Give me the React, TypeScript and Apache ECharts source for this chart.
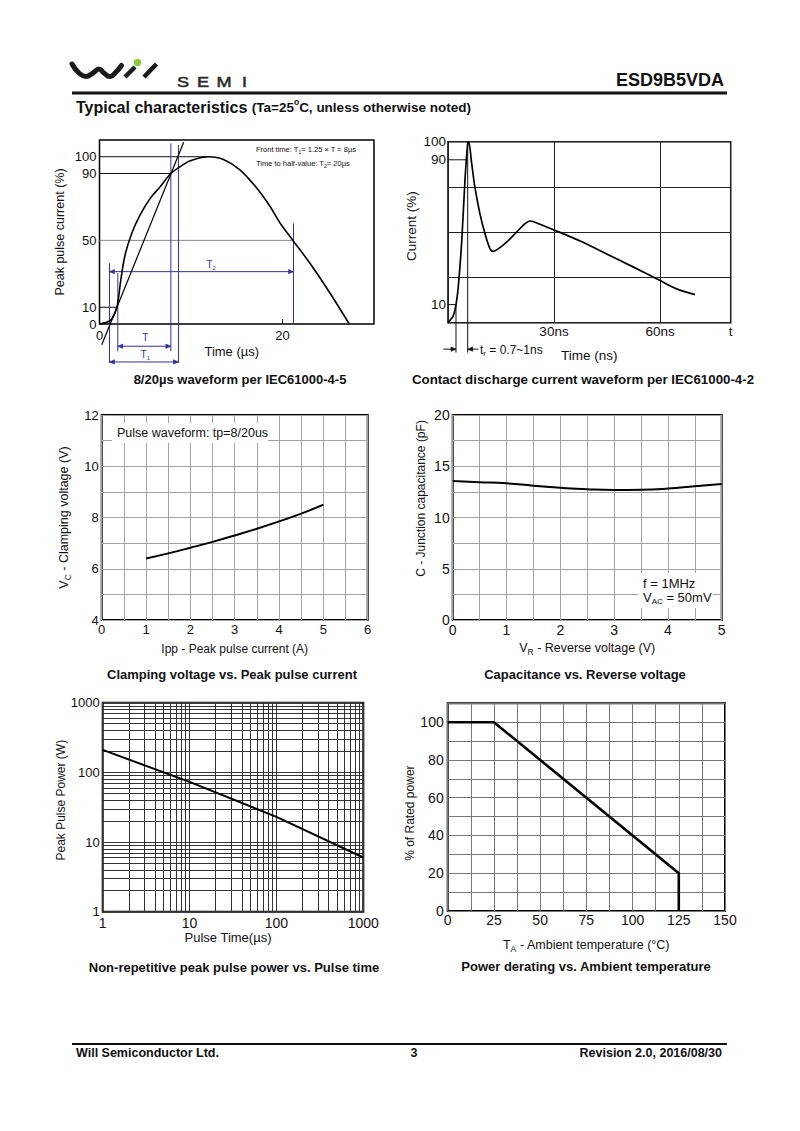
import React, { useEffect, useRef } from "react";
import * as echarts from "echarts";

const FONT = "'Liberation Sans', Arial, Helvetica, sans-serif";

// ---------- Chart 1: 8/20us waveform (IEC61000-4-5)
const surgeTime = [0, 0.8, 1.35, 1.9, 2.33, 2.8, 3.53, 4.44, 5.54, 6.63, 7.8, 9.18, 9.91, 11.9, 13.55, 15.38, 17.2, 18.66, 19.75, 21.2, 23.0, 25.2, 27.3];
const surgeCurrent = [0, 1, 3, 10, 26.4, 41.4, 54.3, 65.2, 75.1, 82.1, 90, 95.4, 97.6, 100, 98.4, 92, 81.1, 70.1, 60.2, 49.5, 36.3, 18.4, 0];
const frontLineTime = [0.25, 9.2];
const frontLineCurrent = [-12.4, 108.6];
const surgeLevels = [100, 90, 50, 10];
const surgeLevelEnds = [11.9, 7.8, 21.2, 1.9];
const surgeLevelColors = ["#111", "#111", "#888", "#111"];
// dimension lines: [t1, i1, t2, i2, arrowAtStart, arrowAtEnd]
const surgeDims = [
  [1.09, 36.4, 1.09, -23.3, 0, 0],
  [2.0, 30.4, 2.0, -16.3, 0, 0],
  [7.8, 108, 7.8, -16.3, 0, 0],
  [8.63, 107, 8.63, -23.3, 0, 0],
  [21.2, 60.2, 21.2, 0, 0, 0],
  [1.09, 31.3, 21.2, 31.3, 1, 1],
  [2.0, -13.3, 7.8, -13.3, 1, 1],
  [1.09, -22.7, 8.63, -22.7, 1, 1],
];
const surgeDimLabels = ["{m|T}{s|2}", "{m|T}", "{m|T}{s|1}"];
const surgeDimLabelPos = [
  [12.2, 35.3],
  [5.0, -8.3],
  [5.0, -18.3],
];
const surgeXLabels = [0, 20];
const surgeYLabels = [0, 10, 50, 90, 100];

// ---------- Chart 2: Contact discharge waveform (IEC61000-4-2)
const esdTime = [0, 1.5, 2.26, 2.9, 3.9, 4.8, 5.57, 5.85, 6.7, 7.6, 9.06, 10.5, 11.9, 12.8, 14.2, 16.6, 19.4, 21.8, 23.2, 24.6, 29.8, 37.4, 44.9, 52.5, 60, 64.7, 69.9];
const esdCurrent = [0, 3.9, 10, 19.6, 45.5, 78.7, 99, 100, 88, 75, 60, 49, 40.8, 39.4, 40.8, 44.5, 50, 54.7, 56.2, 55.5, 51.4, 45.1, 38, 30.7, 23.3, 18.7, 15.5];
const esdDims = [
  [0, 90, 5.3, 90, 0, 0],
  [0, 10, 2.26, 10, 0, 0],
  [2.26, 10, 2.26, -16.5, 0, 0],
  [5.57, 100, 5.57, -16.5, 0, 0],
  [-1.3, -14.6, 2.26, -14.6, 0, 1],
  [8.6, -14.6, 5.57, -14.6, 0, 1],
];
const esdDimLabels = ["{m|t}{s|r}{m| = 0.7~1ns}"];
const esdDimLabelPos = [[9.06, -15.3]];
const esdXLabels = [30, 60, 80];
const esdYLabels = [10, 90, 100];

// ---------- Chart 3: Clamping voltage vs Ipp
const ippCurrent = [1, 1.5, 2, 2.5, 3, 3.5, 4, 4.5, 5];
const clampVoltage = [6.4, 6.6, 6.82, 7.05, 7.3, 7.56, 7.85, 8.15, 8.5];

// ---------- Chart 4: Capacitance vs reverse voltage
const reverseVoltage = [0, 0.5, 1, 1.5, 2, 2.5, 3, 3.5, 4, 4.5, 5];
const capacitance = [13.56, 13.45, 13.33, 13.1, 12.9, 12.75, 12.68, 12.7, 12.82, 13.05, 13.27];

// ---------- Chart 5: Peak pulse power vs pulse time (log-log)
const pulseTime = [1, 10, 100, 1000];
const pulsePower = [210, 73, 23, 6];
const logMinorLines = [2, 3, 4, 5, 6, 7, 8, 9, 20, 30, 40, 50, 60, 70, 80, 90, 200, 300, 400, 500, 600, 700, 800, 900];

// ---------- Chart 6: Power derating
const ambientTemp = [0, 25, 125, 125];
const ratedPower = [100, 100, 20, 0];

const BLUE = "#33339a";

function zip(a: number[], b: number[]) {
  return a.map((v, i) => [v, b[i]]);
}

function segmentRenderer(color: string, width: number) {
  return (_params: any, api: any) => {
    const p1 = api.coord([api.value(0), api.value(1)]);
    const p2 = api.coord([api.value(2), api.value(3)]);
    const children: any[] = [
      {
        type: "line",
        shape: { x1: p1[0], y1: p1[1], x2: p2[0], y2: p2[1] },
        style: { stroke: color, lineWidth: width },
      },
    ];
    const head = (tip: number[], from: number[]) => {
      const dx = tip[0] - from[0];
      const dy = tip[1] - from[1];
      const len = Math.hypot(dx, dy) || 1;
      const ux = dx / len;
      const uy = dy / len;
      const L = 5;
      const W = 2.2;
      return {
        type: "polygon",
        shape: {
          points: [
            [tip[0] - ux * L - uy * W, tip[1] - uy * L + ux * W],
            [tip[0], tip[1]],
            [tip[0] - ux * L + uy * W, tip[1] - uy * L - ux * W],
          ],
        },
        style: { fill: color, stroke: color, lineWidth: 0.6 },
      };
    };
    if (api.value(4)) children.push(head(p1, p2));
    if (api.value(5)) children.push(head(p2, p1));
    return { type: "group", children };
  };
}

function textRenderer(labels: string[], color: string, fontSize: number, align: string) {
  return (params: any, api: any) => {
    const p = api.coord([api.value(0), api.value(1)]);
    return {
      type: "text",
      x: p[0],
      y: p[1],
      style: {
        text: labels[params.dataIndex],
        fill: color,
        align,
        verticalAlign: "middle",
        rich: {
          m: { fontSize, fontFamily: FONT, fill: color, lineHeight: fontSize + 3, verticalAlign: "middle" },
          s: { fontSize: fontSize - 4, fontFamily: FONT, fill: color, lineHeight: fontSize - 5, verticalAlign: "bottom" },
        },
      },
    };
  };
}

function subRich(size: number) {
  return {
    m: { fontSize: size, fontFamily: FONT, color: "#111", lineHeight: size + 4, verticalAlign: "middle" },
    s: { fontSize: size - 4, fontFamily: FONT, color: "#111", lineHeight: size - 5, verticalAlign: "bottom" },
  };
}

const noLine = { show: false };

function buildOption() {
  const grids = [
    { left: 99.5, top: 140, width: 274.5, height: 184 },
    { left: 448, top: 141.7, width: 282.7, height: 181 },
    { left: 101.7, top: 415, width: 266, height: 205 },
    { left: 452.7, top: 415, width: 269, height: 205 },
    { left: 102.7, top: 702.7, width: 260.6, height: 209 },
    { left: 447.7, top: 703.3, width: 277.3, height: 207.7 },
  ].map((g) => ({ ...g, show: true, borderColor: "#000", borderWidth: 1.5, backgroundColor: "#fff", containLabel: false }));
  grids[2].borderWidth = 2;
  grids[3].borderWidth = 2;
  grids[4].borderWidth = 2;
  grids[5].borderWidth = 2;

  const lbl = (size: number, margin: number, extra: any = {}) => ({
    fontSize: size,
    fontFamily: FONT,
    color: "#111",
    margin,
    ...extra,
  });

  const plain = (v: number) => String(v);

  const xAxis: any[] = [
    {
      gridIndex: 0,
      type: "value",
      min: 0,
      max: 30,
      axisLine: noLine,
      splitLine: noLine,
      axisTick: { show: true, inside: true, length: 5, customValues: [20], lineStyle: { color: "#111" } },
      axisLabel: lbl(13, 5, { customValues: surgeXLabels }),
      name: "Time (\u00b5s)",
      nameLocation: "middle",
      nameGap: 21,
      nameTextStyle: { fontSize: 13, fontFamily: FONT, color: "#111", padding: [0, 10, 0, 0] },
    },
    {
      gridIndex: 1,
      type: "value",
      min: 0,
      max: 80,
      interval: 30,
      axisLine: noLine,
      axisTick: noLine,
      splitLine: { show: true, lineStyle: { color: "#222", width: 1 } },
      axisLabel: lbl(13.5, 2, {
        customValues: esdXLabels,
        formatter: (v: number) => (v === 80 ? "t" : v + "ns"),
      }),
      name: "Time (ns)",
      nameLocation: "middle",
      nameGap: 26,
      nameTextStyle: { fontSize: 13.5, fontFamily: FONT, color: "#111" },
    },
    {
      gridIndex: 2,
      type: "value",
      min: 0,
      max: 6,
      interval: 1,
      axisLine: noLine,
      axisTick: noLine,
      minorTick: { show: false, splitNumber: 2 },
      splitLine: { show: true, lineStyle: { color: "#a3a3a3", width: 1 } },
      minorSplitLine: { show: true, lineStyle: { color: "#a3a3a3", width: 1 } },
      axisLabel: lbl(13, 3, { showMinLabel: true, showMaxLabel: true }),
      name: "Ipp - Peak pulse current (A)",
      nameLocation: "middle",
      nameGap: 23,
      nameTextStyle: { fontSize: 12, fontFamily: FONT, color: "#111" },
    },
    {
      gridIndex: 3,
      type: "value",
      min: 0,
      max: 5,
      interval: 1,
      axisLine: noLine,
      axisTick: noLine,
      minorTick: { show: false, splitNumber: 2 },
      splitLine: { show: true, lineStyle: { color: "#a3a3a3", width: 1 } },
      minorSplitLine: { show: true, lineStyle: { color: "#a3a3a3", width: 1 } },
      axisLabel: lbl(14, 3),
      name: "{m|V}{s|R}{m| - Reverse voltage (V)}",
      nameLocation: "middle",
      nameGap: 20,
      nameTextStyle: { rich: subRich(12.5) },
    },
    {
      gridIndex: 4,
      type: "log",
      logBase: 10,
      min: 1,
      max: 1000,
      axisLine: noLine,
      axisTick: noLine,
      splitLine: { show: true, lineStyle: { color: "#333", width: 1 } },
      axisLabel: lbl(14, 4, { formatter: plain }),
      name: "Pulse Time(\u00b5s)",
      nameLocation: "middle",
      nameGap: 19,
      nameTextStyle: { fontSize: 13, fontFamily: FONT, color: "#111", padding: [0, 10, 0, 0] },
    },
    {
      gridIndex: 5,
      type: "value",
      min: 0,
      max: 150,
      interval: 25,
      axisLine: noLine,
      axisTick: noLine,
      minorTick: { show: false, splitNumber: 2 },
      splitLine: { show: true, lineStyle: { color: "#777", width: 1 } },
      minorSplitLine: { show: true, lineStyle: { color: "#777", width: 1 } },
      axisLabel: lbl(14, 2),
      name: "{m|T}{s|A}{m| - Ambient temperature (\u00b0C)}",
      nameLocation: "middle",
      nameGap: 26,
      nameTextStyle: { rich: subRich(12.5) },
    },
  ];

  const yAxis: any[] = [
    {
      gridIndex: 0,
      type: "value",
      min: 0,
      max: 110,
      axisLine: noLine,
      axisTick: noLine,
      splitLine: noLine,
      axisLabel: lbl(13, 3, { customValues: surgeYLabels }),
      name: "Peak pulse current (%)",
      nameLocation: "middle",
      nameGap: 33,
      nameTextStyle: { fontSize: 12.5, fontFamily: FONT, color: "#111" },
    },
    {
      gridIndex: 1,
      type: "value",
      min: 0,
      max: 100,
      interval: 25,
      axisLine: noLine,
      axisTick: noLine,
      splitLine: { show: true, lineStyle: { color: "#222", width: 1 } },
      axisLabel: lbl(13.5, 2, { customValues: esdYLabels }),
      name: "Current (%)",
      nameLocation: "middle",
      nameGap: 30,
      nameTextStyle: { fontSize: 13.5, fontFamily: FONT, color: "#111", padding: [0, 0, 0, 12] },
    },
    {
      gridIndex: 2,
      type: "value",
      min: 4,
      max: 12,
      interval: 2,
      axisLine: noLine,
      axisTick: noLine,
      minorTick: { show: false, splitNumber: 2 },
      splitLine: { show: true, lineStyle: { color: "#a3a3a3", width: 1 } },
      minorSplitLine: { show: true, lineStyle: { color: "#a3a3a3", width: 1 } },
      axisLabel: lbl(13, 3),
      name: "{m|V}{s|C}{m| - Clamping voltage (V)}",
      nameLocation: "middle",
      nameGap: 29,
      nameTextStyle: { rich: subRich(12.5) },
    },
    {
      gridIndex: 3,
      type: "value",
      min: 0,
      max: 20,
      interval: 5,
      axisLine: noLine,
      axisTick: noLine,
      minorTick: { show: false, splitNumber: 2 },
      splitLine: { show: true, lineStyle: { color: "#a3a3a3", width: 1 } },
      minorSplitLine: { show: true, lineStyle: { color: "#a3a3a3", width: 1 } },
      axisLabel: lbl(14, 3),
      name: "C - Junction capacitance (pF)",
      nameLocation: "middle",
      nameGap: 26,
      nameTextStyle: { fontSize: 12, fontFamily: FONT, color: "#111", padding: [0, 0, 0, 38] },
    },
    {
      gridIndex: 4,
      type: "log",
      logBase: 10,
      min: 1,
      max: 1000,
      axisLine: noLine,
      axisTick: noLine,
      splitLine: { show: true, lineStyle: { color: "#333", width: 1 } },
      axisLabel: lbl(13, 3, { formatter: plain }),
      name: "Peak Pulse Power (W)",
      nameLocation: "middle",
      nameGap: 24,
      nameTextStyle: { fontSize: 12, fontFamily: FONT, color: "#111", padding: [0, 0, 0, 14] },
    },
    {
      gridIndex: 5,
      type: "value",
      min: 0,
      max: 110,
      interval: 10,
      axisLine: noLine,
      axisTick: noLine,
      splitLine: { show: true, lineStyle: { color: "#777", width: 1 } },
      axisLabel: lbl(14, 4, { formatter: (v: number) => (v % 20 === 0 ? String(v) : "") }),
      name: "% of Rated power",
      nameLocation: "middle",
      nameGap: 26,
      nameTextStyle: { fontSize: 12, fontFamily: FONT, color: "#111", padding: [0, 12, 0, 0] },
    },
  ];

  const curve = (idx: number, data: number[][], width: number, extra: any = {}) => ({
    type: "line",
    xAxisIndex: idx,
    yAxisIndex: idx,
    data,
    showSymbol: false,
    symbol: "none",
    lineStyle: { color: "#000", width },
    z: 5,
    ...extra,
  });

  const segs = (idx: number, rows: number[][], color: string, width: number, z = 4) => ({
    type: "custom",
    xAxisIndex: idx,
    yAxisIndex: idx,
    clip: false,
    silent: true,
    z,
    encode: { x: [0, 2], y: [1, 3] },
    data: rows,
    renderItem: segmentRenderer(color, width),
  });

  const texts = (idx: number, pos: number[][], labels: string[], color: string, size: number, align: string) => ({
    type: "custom",
    xAxisIndex: idx,
    yAxisIndex: idx,
    clip: false,
    silent: true,
    z: 6,
    encode: { x: 0, y: 1 },
    data: pos,
    renderItem: textRenderer(labels, color, size, align),
  });

  const surgeLevelRows = surgeLevels.map((lv, i) => [0, lv, surgeLevelEnds[i], lv, 0, 0]);

  const series: any[] = [
    // chart 1
    curve(0, zip(surgeTime, surgeCurrent), 1.6, { smooth: 0.35 }),
    curve(0, zip(frontLineTime, frontLineCurrent), 1.2, { clip: false }),
    ...surgeLevelRows.map((row, i) => segs(0, [row], surgeLevelColors[i], 1)),
    segs(0, surgeDims, BLUE, 1),
    texts(0, surgeDimLabelPos, surgeDimLabels, BLUE, 10, "center"),
    // chart 2
    curve(1, zip(esdTime, esdCurrent), 1.7, { smooth: 0.3 }),
    segs(1, esdDims, "#111", 1),
    texts(1, esdDimLabelPos, esdDimLabels, "#111", 12, "left"),
    // chart 3
    curve(2, zip(ippCurrent, clampVoltage), 2, { smooth: true }),
    // chart 4
    curve(3, zip(reverseVoltage, capacitance), 2, { smooth: true }),
    // chart 5
    {
      type: "line",
      xAxisIndex: 4,
      yAxisIndex: 4,
      data: [],
      silent: true,
      z: 1,
      markLine: {
        silent: true,
        symbol: ["none", "none"],
        label: { show: false },
        lineStyle: { color: "#333", width: 1, type: "solid" },
        data: [...logMinorLines.map((v) => ({ xAxis: v })), ...logMinorLines.map((v) => ({ yAxis: v }))],
      },
    },
    curve(4, zip(pulseTime, pulsePower), 2),
    // chart 6
    curve(5, zip(ambientTemp, ratedPower), 2.6),
  ];

  const t = (text: string, x: number, y: number, size: number, opts: any = {}) => ({
    type: "text",
    x,
    y,
    z: 60,
    scaleX: opts.scaleX || 1,
    style: {
      text,
      fontSize: size,
      fontFamily: FONT,
      fontWeight: opts.bold ? "bold" : "normal",
      fill: opts.color || "#111",
      stroke: opts.stroke,
      lineWidth: opts.stroke ? 0.5 : 0,
      align: opts.align || "left",
      verticalAlign: "middle",
      rich: opts.rich,
    },
  });

  const noteRich = {
    m: { fontSize: 7.5, fontFamily: FONT, fill: "#111", lineHeight: 10, verticalAlign: "middle" },
    s: { fontSize: 5, fontFamily: FONT, fill: "#111", lineHeight: 4, verticalAlign: "bottom" },
  };
  const boxRich = {
    m: { fontSize: 13, fontFamily: FONT, fill: "#111", lineHeight: 16, verticalAlign: "middle" },
    s: { fontSize: 8, fontFamily: FONT, fill: "#111", lineHeight: 7, verticalAlign: "bottom" },
  };

  const graphic: any[] = [
    // logo
    {
      type: "polyline",
      z: 60,
      shape: {
        points: [
          [72, 64],
          [79, 73],
          [86, 76.5],
          [93, 73],
          [99, 69],
          [104, 73],
          [110, 76.5],
          [116, 72],
          [121.5, 65.5],
        ],
        smooth: 0.5,
      },
      style: { stroke: "#1b1b1b", lineWidth: 5, fill: "none", lineCap: "round" },
    },
    { type: "line", z: 60, shape: { x1: 125, y1: 77, x2: 135, y2: 67 }, style: { stroke: "#1b1b1b", lineWidth: 4.5 } },
    { type: "line", z: 60, shape: { x1: 144, y1: 77, x2: 156.5, y2: 64 }, style: { stroke: "#1b1b1b", lineWidth: 4.5 } },
    { type: "circle", z: 60, shape: { cx: 137.5, cy: 62.5, r: 3.8 }, style: { fill: "#8dc63f" } },
    t("S", 177, 81.5, 14.5, { color: "#2a2a2a", stroke: "#2a2a2a", scaleX: 1.25 }),
    t("E", 197, 81.5, 14.5, { color: "#2a2a2a", stroke: "#2a2a2a", scaleX: 1.25 }),
    t("M", 216.5, 81.5, 14.5, { color: "#2a2a2a", stroke: "#2a2a2a", scaleX: 1.25 }),
    t("I", 242, 81.5, 14.5, { color: "#2a2a2a", stroke: "#2a2a2a", scaleX: 1.25 }),
    t("ESD9B5VDA", 724, 80, 18, { bold: true, align: "right" }),
    { type: "line", z: 60, shape: { x1: 72, y1: 93, x2: 727, y2: 93 }, style: { stroke: "#111", lineWidth: 3 } },
    t("{a|Typical characteristics }{b|(Ta=25}{c|o}{b|C, unless otherwise noted)}", 76, 107, 16, {
      rich: {
        a: { fontSize: 16, fontFamily: FONT, fontWeight: "bold", fill: "#111", lineHeight: 19, verticalAlign: "middle" },
        b: { fontSize: 13.5, fontFamily: FONT, fontWeight: "bold", fill: "#111", lineHeight: 19, verticalAlign: "middle" },
        c: { fontSize: 8.5, fontFamily: FONT, fontWeight: "bold", fill: "#111", lineHeight: 10, verticalAlign: "top" },
      },
    }),
    // chart 1 notes
    t("{m|Front time: T}{s|1}{m|= 1.25 \u00d7 T = 8\u00b5s}", 256, 149, 7.5, { rich: noteRich }),
    t("{m|Time to half-value: T}{s|2}{m|= 20\u00b5s}", 256, 163, 7.5, { rich: noteRich }),
    // chart 3 note box
    { type: "rect", z: 55, shape: { x: 112, y: 423, width: 156, height: 20 }, style: { fill: "#fff" } },
    t("Pulse waveform: tp=8/20us", 117, 433, 12.5),
    // chart 4 note box
    { type: "rect", z: 55, shape: { x: 638, y: 573, width: 75, height: 35 }, style: { fill: "#fff" } },
    t("f = 1MHz", 643, 583, 13),
    t("{m|V}{s|AC}{m| = 50mV}", 643, 597, 13, { rich: boxRich }),
    // captions
    t("8/20\u00b5s waveform per IEC61000-4-5", 240, 379, 13, { bold: true, align: "center" }),
    t("Contact discharge current waveform per IEC61000-4-2", 583, 379, 13.3, { bold: true, align: "center" }),
    t("Clamping voltage vs. Peak pulse current", 232, 674, 13, { bold: true, align: "center" }),
    t("Capacitance vs. Reverse voltage", 585, 674, 13, { bold: true, align: "center" }),
    t("Non-repetitive peak pulse power vs. Pulse time", 234, 967, 13, { bold: true, align: "center" }),
    t("Power derating vs. Ambient temperature", 586, 966, 13, { bold: true, align: "center" }),
    // footer
    { type: "line", z: 60, shape: { x1: 72, y1: 1044, x2: 727, y2: 1044 }, style: { stroke: "#111", lineWidth: 2 } },
    t("Will Semiconductor Ltd.", 76, 1053, 12.5, { bold: true }),
    t("3", 414, 1053, 12.5, { bold: true, align: "center" }),
    t("Revision 2.0, 2016/08/30", 722, 1053, 12.5, { bold: true, align: "right" }),
  ];

  return {
    animation: false,
    backgroundColor: "#fff",
    textStyle: { fontFamily: FONT },
    grid: grids,
    xAxis,
    yAxis,
    series,
    graphic,
  };
}

export default function App() {
  const ref = useRef<HTMLDivElement>(null);
  useEffect(() => {
    if (!ref.current) return;
    const chart = echarts.init(ref.current, undefined, { renderer: "svg" });
    chart.setOption(buildOption() as any);
    return () => chart.dispose();
  }, []);
  return (
    <div
      ref={ref}
      style={{ position: "absolute", left: 0, top: 0, width: 800, height: 1131, background: "#fff" }}
    />
  );
}
